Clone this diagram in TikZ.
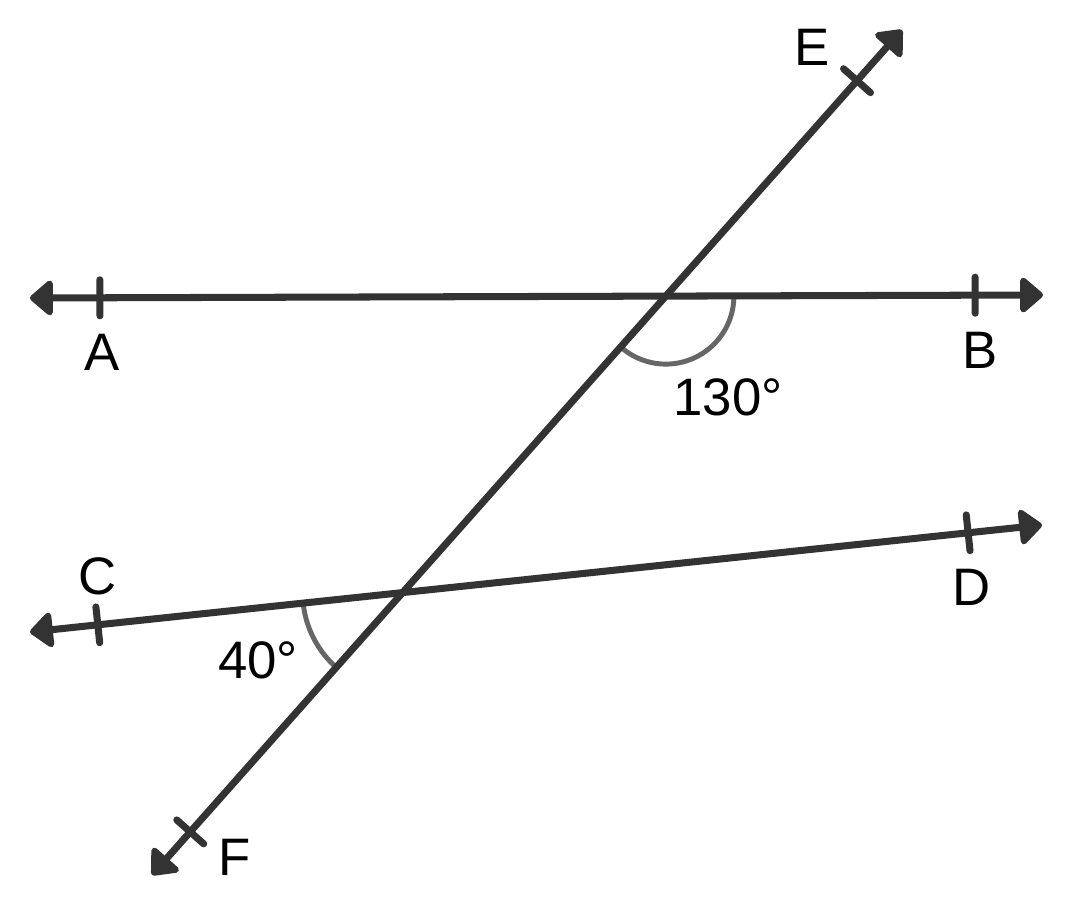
\documentclass[tikz,border=0pt]{standalone}
\usepackage{fontspec}
\setmainfont{Liberation Sans}
\usetikzlibrary{calc,arrows.meta}
\begin{document}
\begin{tikzpicture}[x=0.01cm, y=0.01cm, line cap=round]
  % stijlen
  \tikzset{
    lijn/.style={draw=black!80, line width=2pt,
      {Triangle[length=7pt,width=11.5pt,round]}-{Triangle[length=7pt,width=11.5pt,round]}},
    streep/.style={draw=black!80, line width=2pt},
    boog/.style={draw=black!60, line width=1.4pt},
    lbl/.style={font=\fontsize{15}{18}\selectfont}
  }
  \useasboundingbox (0,0) rectangle (1072,915);
  % eindpunten
  \coordinate (A) at (30,617);
  \coordinate (B) at (1043,620);
  \coordinate (C) at (30,283);
  \coordinate (D) at (1042,390);
  \coordinate (E) at (902,885);
  \coordinate (F) at (152,40);
  % snijpunten
  \coordinate (P) at (intersection of A--B and E--F);
  \coordinate (Q) at (intersection of C--D and E--F);
  % hoekbogen
  \draw[boog] ($(P)+(0.68cm,0)$) arc[start angle=0, end angle=-131.6, radius=0.68cm];
  \draw[boog] ($(Q)+(186.04:1cm)$) arc[start angle=186.04, end angle=228.4, radius=1cm];
  % lijnen
  \draw[lijn] (A) -- (B);
  \draw[lijn] (C) -- (D);
  \draw[lijn] (E) -- (F);
  % streepjes
  \foreach \p/\q/\t/\n in {A/B/0.069/tA, B/A/0.067/tB, C/D/0.067/tC, D/C/0.073/tD, E/F/0.06/tE, F/E/0.051/tF}{
    \coordinate (\n) at ($(\p)!\t!(\q)$);
    \draw[streep] ($(\n)!0.18cm!90:(\q)$) -- ($(\n)!0.18cm!-90:(\q)$);
  }
  % labels
  \node[lbl] (lA) at (102,563) {A};
  \node[lbl] (lB) at (980,565) {B};
  \node[lbl] (lC) at (98,339) {C};
  \node[lbl] (lD) at (972,328) {D};
  \node[lbl] (lE) at (812,868) {E};
  \node[lbl] (lF) at (235,58) {F};
  \node[lbl] (h1) at (728,518) {130°};
  \node[lbl] (h2) at (258,255) {40°};
\end{tikzpicture}
\end{document}
